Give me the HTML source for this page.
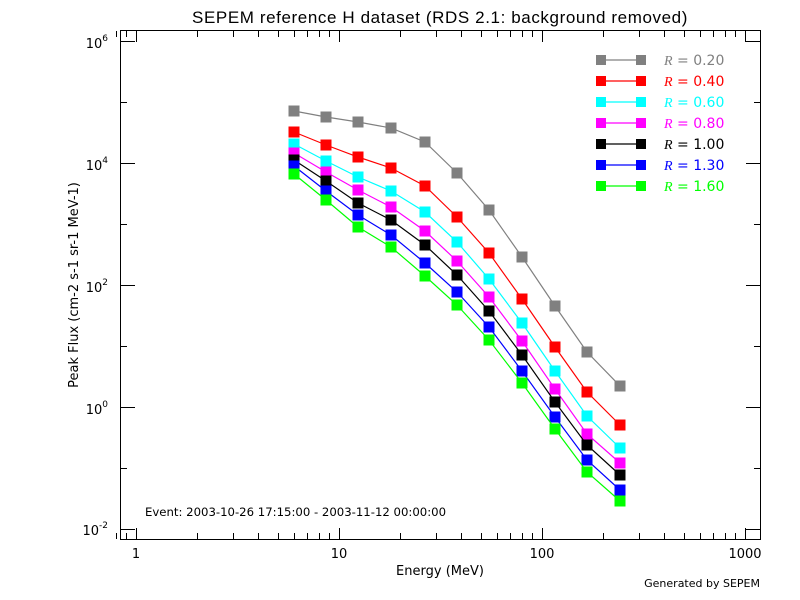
<!DOCTYPE html>
<html><head><meta charset="utf-8"><style>
html,body{margin:0;padding:0;background:#fff}
svg{display:block;font-family:"DejaVu Sans","Liberation Sans",sans-serif}
</style></head><body>
<svg width="800" height="600" viewBox="0 0 800 600" xmlns="http://www.w3.org/2000/svg">
<rect width="800" height="600" fill="#fff"/>
<text x="440" y="23" font-size="17" font-family="Liberation Sans, sans-serif" letter-spacing="0.6" text-anchor="middle" fill="#000">SEPEM reference H dataset (RDS 2.1: background removed)</text>
<rect x="120.5" y="30.5" width="640" height="509" fill="none" stroke="#000" stroke-width="1"/>
<g id="ticks" stroke="#000" stroke-width="1"></g>
<g font-size="13" fill="#000" text-anchor="middle">
<text x="136" y="558">1</text><text x="339" y="558">10</text><text x="542" y="558">100</text><text x="745" y="558">1000</text>
</g>
<g font-size="13" fill="#000" text-anchor="end">
<text x="108" y="48">10<tspan font-size="9" dy="-7">6</tspan></text>
<text x="108" y="170">10<tspan font-size="9" dy="-7">4</tspan></text>
<text x="108" y="292">10<tspan font-size="9" dy="-7">2</tspan></text>
<text x="108" y="414">10<tspan font-size="9" dy="-7">0</tspan></text>
<text x="108" y="535">10<tspan font-size="9" dy="-7">-2</tspan></text>
</g>
<text x="440" y="575" font-size="13" text-anchor="middle">Energy (MeV)</text>
<text transform="translate(78,285) rotate(-90)" font-size="13" text-anchor="middle">Peak Flux (cm-2 s-1 sr-1 MeV-1)</text>
<text x="145" y="516" font-size="11.7">Event: 2003-10-26 17:15:00 - 2003-11-12 00:00:00</text>
<text x="760" y="587" font-size="11" text-anchor="end">Generated by SEPEM</text>
<g id="series"></g>
<g id="legend" font-size="14"></g>
<script>
var ns="http://www.w3.org/2000/svg";
function el(p,t,a){var e=document.createElementNS(ns,t);for(var k in a)e.setAttribute(k,a[k]);p.appendChild(e);return e;}
var T=document.getElementById("ticks");
function X(v){return 135.7+203*Math.log10(v);}
function Y(l){return 41+61*(6-l);}
[1,10,100,1000].forEach(function(d){for(var m=1;m<10;m++){var v=d*m;var x=Math.round(X(v))+0.5;if(x<120||x>760)continue;var L=m==1?11:6;
el(T,"line",{x1:x,x2:x,y1:539,y2:539-L});el(T,"line",{x1:x,x2:x,y1:31,y2:31+L});}});
[0.8,0.9].forEach(function(v){var x=Math.round(X(v))+0.5;el(T,"line",{x1:x,x2:x,y1:539,y2:533});el(T,"line",{x1:x,x2:x,y1:31,y2:37});});
for(var l=-2;l<=6;l++){var y=Math.round(Y(l))+0.5;var L=(l%2==0)?14:6;
el(T,"line",{x1:121,x2:121+L,y1:y,y2:y});el(T,"line",{x1:760,x2:760-L,y1:y,y2:y});}
var xs=[294,326,358,391,425,457,489,522,555,587,620];
var S=[["#808080",[111,117,122,128,142,173,210,257,306,352,386],"0.20"],
["#ff0000",[132,145,157,168,186,217,253,299,347,392,425],"0.40"],
["#00ffff",[144,161,177,191,212,242,279,323,371,416,448],"0.60"],
["#ff00ff",[153,172,190,207,231,261,297,341,389,434,463],"0.80"],
["#000000",[160,181,203,220,245,275,311,355,402,445,475],"1.00"],
["#0000ff",[166,191,215,235,263,292,327,371,417,460,490],"1.30"],
["#00ff00",[174,200,227,247,276,305,340,383,429,472,501],"1.60"]];
var G=document.getElementById("series"),Lg=document.getElementById("legend");
S.forEach(function(s,i){var c=s[0],ys=s[1];
el(G,"polyline",{points:xs.map(function(x,j){return x+","+ys[j]}).join(" "),fill:"none",stroke:c,"stroke-width":1.2});
xs.forEach(function(x,j){el(G,"rect",{x:x-5.5,y:ys[j]-5.5,width:11,height:11,fill:c});});
var y=60+21*i;
el(Lg,"line",{x1:601,x2:641,y1:y,y2:y,stroke:c,"stroke-width":1.2});
el(Lg,"rect",{x:596,y:y-5,width:10,height:10,fill:c});
el(Lg,"rect",{x:636,y:y-5,width:10,height:10,fill:c});
var t=el(Lg,"text",{x:664,y:y+5,fill:c});
var r=el(t,"tspan",{"font-style":"italic","font-family":"Liberation Serif,serif"});r.textContent="R";
var n=el(t,"tspan",{});n.textContent=" = "+s[2];
});
</script>
</svg>
</body></html>
